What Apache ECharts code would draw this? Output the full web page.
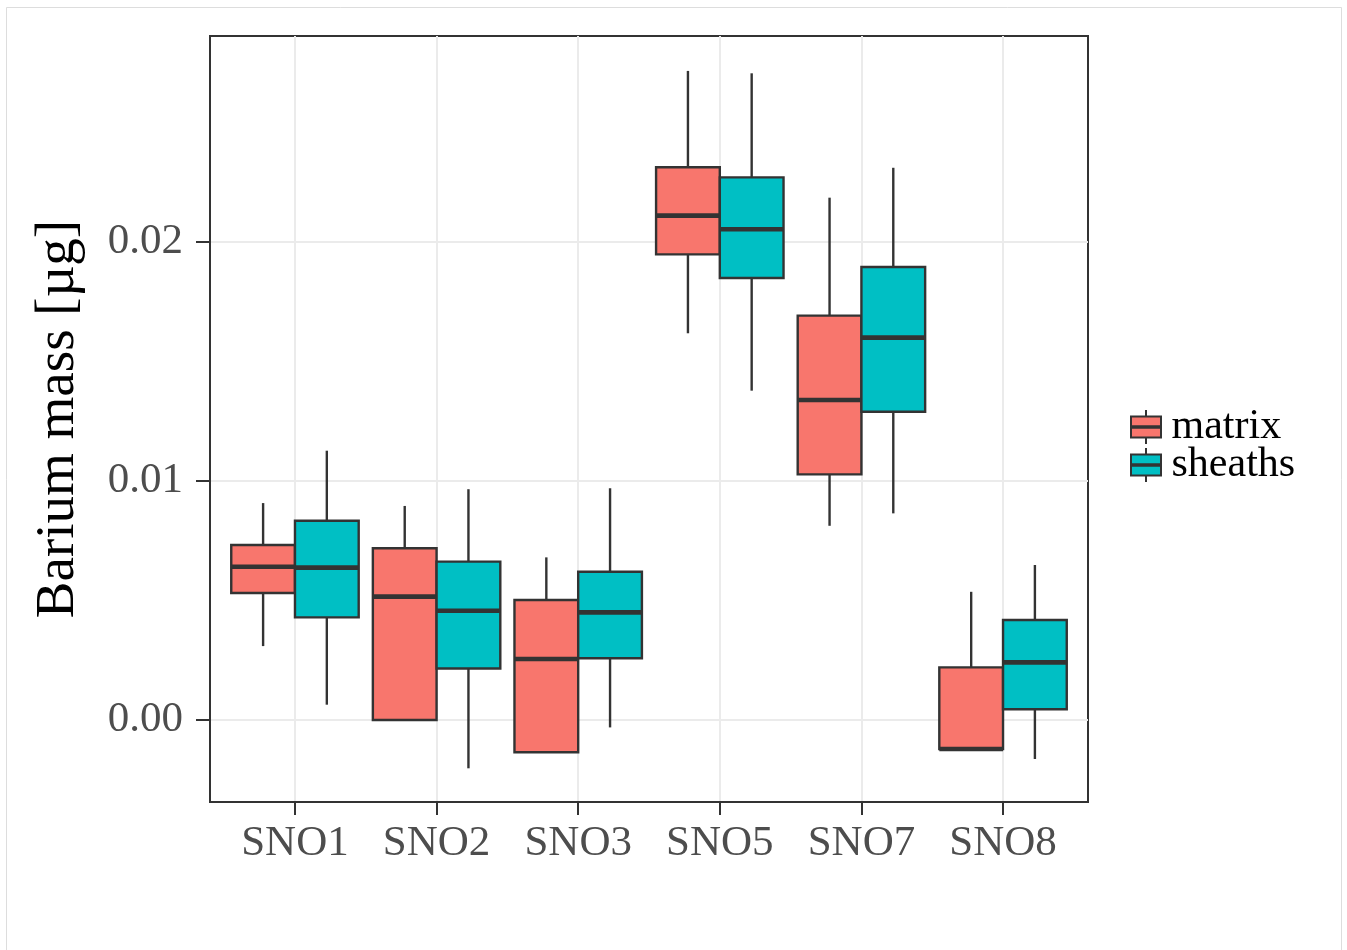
<!DOCTYPE html>
<html>
<head>
<meta charset="utf-8">
<title>Barium mass</title>
<script src="https://cdn.jsdelivr.net/npm/echarts@6/dist/echarts.min.js"></script>
<style>
  html, body { margin: 0; padding: 0; background: #ffffff; }
  #chart { width: 1347px; height: 950px; }
</style>
</head>
<body>
<div id="chart"></div>
<script>
// Sample sites along the x axis
const categories = ['SNO1', 'SNO2', 'SNO3', 'SNO5', 'SNO7', 'SNO8'];
const seriesNames = ['matrix', 'sheaths'];

// Box statistics per site: [lower whisker, Q1, median, Q3, upper whisker] in µg
const matrixStats = [
  [0.00309, 0.00531, 0.00641, 0.00732, 0.00907],
  [0.00000, 0.00000, 0.00516, 0.00718, 0.00895],
  [-0.00135, -0.00135, 0.00255, 0.00502, 0.00680],
  [0.01617, 0.01947, 0.02109, 0.02311, 0.02714],
  [0.00812, 0.01027, 0.01338, 0.01691, 0.02184],
  [-0.00121, -0.00121, -0.00121, 0.00220, 0.00536]
];
const sheathsStats = [
  [0.00064, 0.00429, 0.00637, 0.00833, 0.01126],
  [-0.00202, 0.00215, 0.00457, 0.00662, 0.00965],
  [-0.00031, 0.00258, 0.00450, 0.00620, 0.00969],
  [0.01377, 0.01848, 0.02052, 0.02269, 0.02704],
  [0.00864, 0.01289, 0.01599, 0.01894, 0.02309],
  [-0.00163, 0.00045, 0.00241, 0.00418, 0.00648]
];

// Labelled y ticks and the minor grid lines between them
const yTicks = [0, 0.01, 0.02];
const yMinorTicks = [0.005, 0.015, 0.025];

const colors = ['#F8766D', '#00BFC4'];
const ink = '#333333';
const serif = '"Liberation Serif", "DejaVu Serif", serif';

const xPositions = categories.map((c, i) => i + 1);
const boxWidth = 0.45;

function boxRenderer(offset, fill) {
  return function (params, api) {
    const x = api.value(0) + offset;
    const w = api.size([boxWidth, 0])[0];
    const pLow = api.coord([x, api.value(1)]);
    const cx = pLow[0];
    const yLow = pLow[1];
    const yQ1 = api.coord([x, api.value(2)])[1];
    const yMed = api.coord([x, api.value(3)])[1];
    const yQ3 = api.coord([x, api.value(4)])[1];
    const yHigh = api.coord([x, api.value(5)])[1];
    const thin = { stroke: ink, lineWidth: 2.4 };
    return {
      type: 'group',
      children: [
        { type: 'line', shape: { x1: cx, y1: yHigh, x2: cx, y2: yQ3 }, style: thin },
        { type: 'line', shape: { x1: cx, y1: yQ1, x2: cx, y2: yLow }, style: thin },
        {
          type: 'rect',
          shape: { x: cx - w / 2, y: yQ3, width: w, height: yQ1 - yQ3 },
          style: { fill: fill, stroke: ink, lineWidth: 2.4 }
        },
        {
          type: 'line',
          shape: { x1: cx - w / 2, y1: yMed, x2: cx + w / 2, y2: yMed },
          style: { stroke: ink, lineWidth: 4.6 }
        }
      ]
    };
  };
}

function toRows(stats) {
  return stats.map((s, i) => [xPositions[i]].concat(s));
}

// Legend key: a small box with whiskers and a median bar
const keyIcon = 'path://M15 0L15 6.5M0 6.5L30 6.5L30 27.5L0 27.5ZM0 16.2L30 16.2L30 17.8L0 17.8ZM15 27.5L15 34';

const option = {
  backgroundColor: '#ffffff',
  animation: false,
  graphic: [{
    type: 'rect',
    shape: { x: 6.5, y: 7.5, width: 1335, height: 950 },
    style: { fill: 'none', stroke: '#dddddd', lineWidth: 1 },
    silent: true,
    z: -10
  }],
  grid: {
    left: 210, top: 36, width: 878, height: 766,
    show: true, backgroundColor: '#ffffff',
    borderColor: ink, borderWidth: 2,
    containLabel: false
  },
  legend: {
    data: seriesNames,
    orient: 'vertical',
    left: 1125, top: 401,
    itemWidth: 31, itemHeight: 34, itemGap: -4,
    icon: keyIcon,
    itemStyle: { borderColor: ink, borderWidth: 2 },
    textStyle: {
      fontFamily: serif, fontSize: 42, color: '#000000',
      lineHeight: 36, padding: [0, 0, 0, 5]
    },
    selectedMode: false
  },
  xAxis: {
    type: 'value',
    min: 0.4, max: 6.6,
    splitLine: { show: false },
    axisLine: { show: true, onZero: false, lineStyle: { color: ink, width: 2 } },
    axisTick: {
      show: true, customValues: xPositions, length: 13,
      lineStyle: { color: ink, width: 2 }
    },
    axisLabel: {
      customValues: xPositions,
      formatter: v => categories[Math.round(v) - 1],
      fontFamily: serif, fontSize: 43, color: '#4d4d4d', margin: 20
    }
  },
  yAxis: {
    type: 'value',
    min: -0.003429, max: 0.0286,
    name: 'Barium mass [µg]',
    nameLocation: 'middle',
    nameGap: 124,
    nameTextStyle: { fontFamily: serif, fontSize: 55, color: '#000000' },
    splitLine: { show: false },
    axisLine: { show: true, onZero: false, lineStyle: { color: ink, width: 2 } },
    axisTick: {
      show: true, customValues: yTicks, length: 14,
      lineStyle: { color: ink, width: 2 }
    },
    axisLabel: {
      customValues: yTicks,
      formatter: v => v.toFixed(2),
      fontFamily: serif, fontSize: 43, color: '#4d4d4d', margin: 27
    }
  },
  series: [
    {
      name: 'grid',
      type: 'line',
      data: [],
      silent: true,
      z: 0,
      markLine: {
        z: 0,
        silent: true,
        symbol: 'none',
        label: { show: false },
        animation: false,
        data: []
          .concat(yMinorTicks.map(v => ({ yAxis: v, lineStyle: { color: '#f2f2f2', width: 1, type: 'solid' } })))
          .concat(yTicks.map(v => ({ yAxis: v, lineStyle: { color: '#ebebeb', width: 2, type: 'solid' } })))
          .concat(xPositions.map(v => ({ xAxis: v, lineStyle: { color: '#ebebeb', width: 2, type: 'solid' } })))
      }
    },
    {
      name: seriesNames[0],
      type: 'custom',
      z: 3,
      itemStyle: { color: colors[0] },
      encode: { x: 0, y: [1, 2, 3, 4, 5] },
      renderItem: boxRenderer(-boxWidth / 2, colors[0]),
      data: toRows(matrixStats)
    },
    {
      name: seriesNames[1],
      type: 'custom',
      z: 3,
      itemStyle: { color: colors[1] },
      encode: { x: 0, y: [1, 2, 3, 4, 5] },
      renderItem: boxRenderer(boxWidth / 2, colors[1]),
      data: toRows(sheathsStats)
    }
  ]
};

const chart = echarts.init(document.getElementById('chart'), null, { renderer: 'canvas' });
chart.setOption(option);
</script>
</body>
</html>
